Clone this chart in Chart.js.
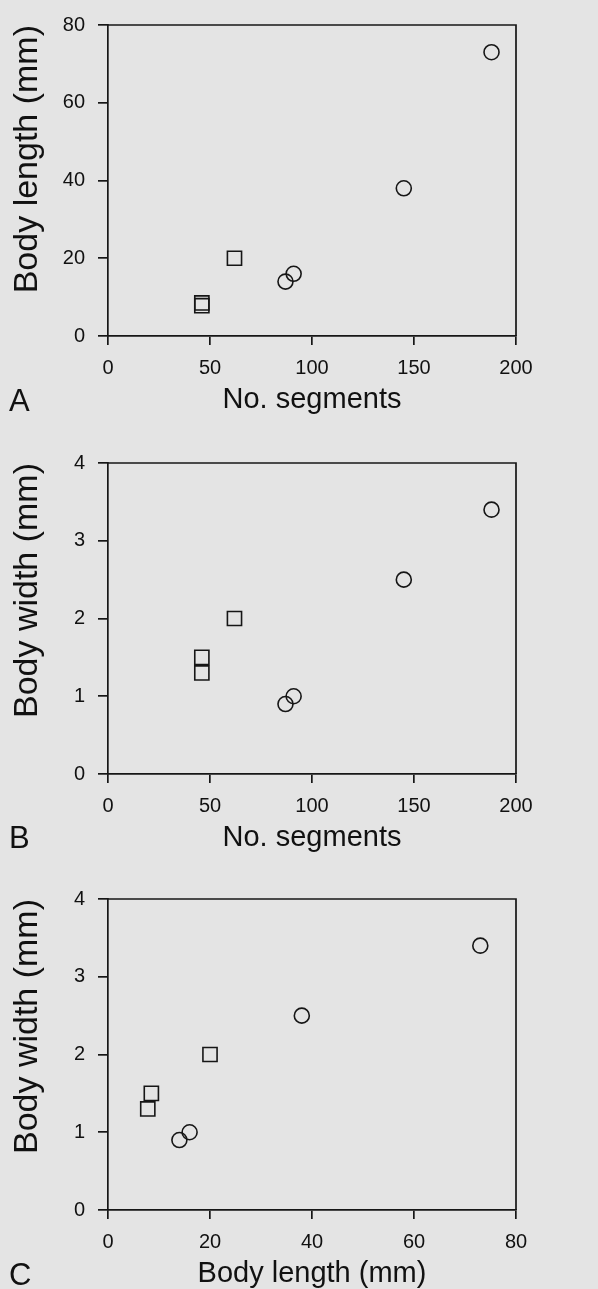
<!DOCTYPE html>
<html>
<head>
<meta charset="utf-8">
<script src="https://cdn.jsdelivr.net/npm/chart.js@4.4.1/dist/chart.umd.min.js"></script>
<style>
  body { margin: 0; background: #e4e4e4; width: 598px; height: 1289px; position: relative; overflow: hidden; font-family: 'Liberation Sans', Arial, sans-serif; }
  .panel { position: absolute; left: 0; width: 598px; height: 420px; }
  .letter { position: absolute; left: 9px; font-size: 31px; line-height: 31px; color: #111; }
</style>
</head>
<body>
<div class="panel" style="top:0px"><canvas id="chartA" width="598" height="420"></canvas></div>
<div class="panel" style="top:438px"><canvas id="chartB" width="598" height="420"></canvas></div>
<div class="panel" style="top:874px"><canvas id="chartC" width="598" height="420"></canvas></div>
<div class="letter" style="top:385px">A</div>
<div class="letter" style="top:822px">B</div>
<div class="letter" style="top:1259px">C</div>
<script>
// circles and squares = the two groups of worms
const circleSegments = [87, 91, 145, 188];
const circleLength = [14, 16, 38, 73];
const circleWidth = [0.9, 1.0, 2.5, 3.4];
const squareSegments = [46, 46, 62];
const squareLength = [7.8, 8.5, 20];
const squareWidth = [1.3, 1.5, 2.0];

const segmentTicks = [0, 50, 100, 150, 200];
const lengthTicks = [0, 20, 40, 60, 80];
const widthTicks = [0, 1, 2, 3, 4];

const ink = '#161616';
Chart.defaults.font.family = "'Liberation Sans', Arial, sans-serif";
Chart.defaults.color = '#111';

// top and right side of the box
const frame = {
  id: 'frame',
  afterDraw(chart) {
    const { ctx, chartArea: a } = chart;
    ctx.save();
    ctx.strokeStyle = ink;
    ctx.lineWidth = 1.7;
    ctx.beginPath();
    ctx.moveTo(a.left, a.top);
    ctx.lineTo(a.right, a.top);
    ctx.lineTo(a.right, a.bottom);
    ctx.stroke();
    ctx.restore();
  }
};

function toPoints(xs, ys) {
  return xs.map((x, i) => ({ x: x, y: ys[i] }));
}

function generatePanel(id, xTicks, yTicks, xTitle, yTitle, circles, squares) {
  new Chart(document.getElementById(id), {
    type: 'scatter',
    data: {
      datasets: [
        {
          data: circles,
          pointStyle: 'circle',
          pointRadius: 7.5,
          borderWidth: 1.6,
          borderColor: ink,
          backgroundColor: 'transparent'
        },
        {
          data: squares,
          pointStyle: 'rect',
          pointRadius: 10,
          borderWidth: 1.6,
          borderColor: ink,
          backgroundColor: 'transparent'
        }
      ]
    },
    options: {
      responsive: false,
      animation: false,
      events: [],
      plugins: {
        legend: { display: false },
        tooltip: { enabled: false }
      },
      layout: {
        padding: { top: 24, right: 82, left: 0, bottom: 0 }
      },
      scales: {
        x: {
          type: 'linear',
          min: xTicks[0],
          max: xTicks[xTicks.length - 1],
          afterBuildTicks: (s) => { s.ticks = xTicks.map(v => ({ value: v })); },
          afterFit: (s) => { s.height = 84; },
          ticks: { font: { size: 20 }, padding: 11, maxRotation: 0 },
          grid: { drawOnChartArea: false, tickLength: 9, color: ink, lineWidth: 1.7 },
          border: { color: ink, width: 1.7 },
          title: { display: true, text: xTitle, font: { size: 29 }, padding: { top: 0, bottom: 3 }, color: '#111' }
        },
        y: {
          type: 'linear',
          min: yTicks[0],
          max: yTicks[yTicks.length - 1],
          afterBuildTicks: (s) => { s.ticks = yTicks.map(v => ({ value: v })); },
          afterFit: (s) => { s.width = 108; },
          ticks: { font: { size: 20 }, padding: 13 },
          grid: { drawOnChartArea: false, tickLength: 10, color: ink, lineWidth: 1.7 },
          border: { color: ink, width: 1.7 },
          title: { display: true, text: yTitle, align: 'end', font: { size: 34 }, padding: { top: 7, bottom: 0 }, color: '#111' }
        }
      }
    },
    plugins: [frame]
  });
}

generatePanel('chartA', segmentTicks, lengthTicks, 'No. segments', 'Body length (mm)',
  toPoints(circleSegments, circleLength), toPoints(squareSegments, squareLength));
generatePanel('chartB', segmentTicks, widthTicks, 'No. segments', 'Body width (mm)',
  toPoints(circleSegments, circleWidth), toPoints(squareSegments, squareWidth));
generatePanel('chartC', lengthTicks, widthTicks, 'Body length (mm)', 'Body width (mm)',
  toPoints(circleLength, circleWidth), toPoints(squareLength, squareWidth));
</script>
</body>
</html>
